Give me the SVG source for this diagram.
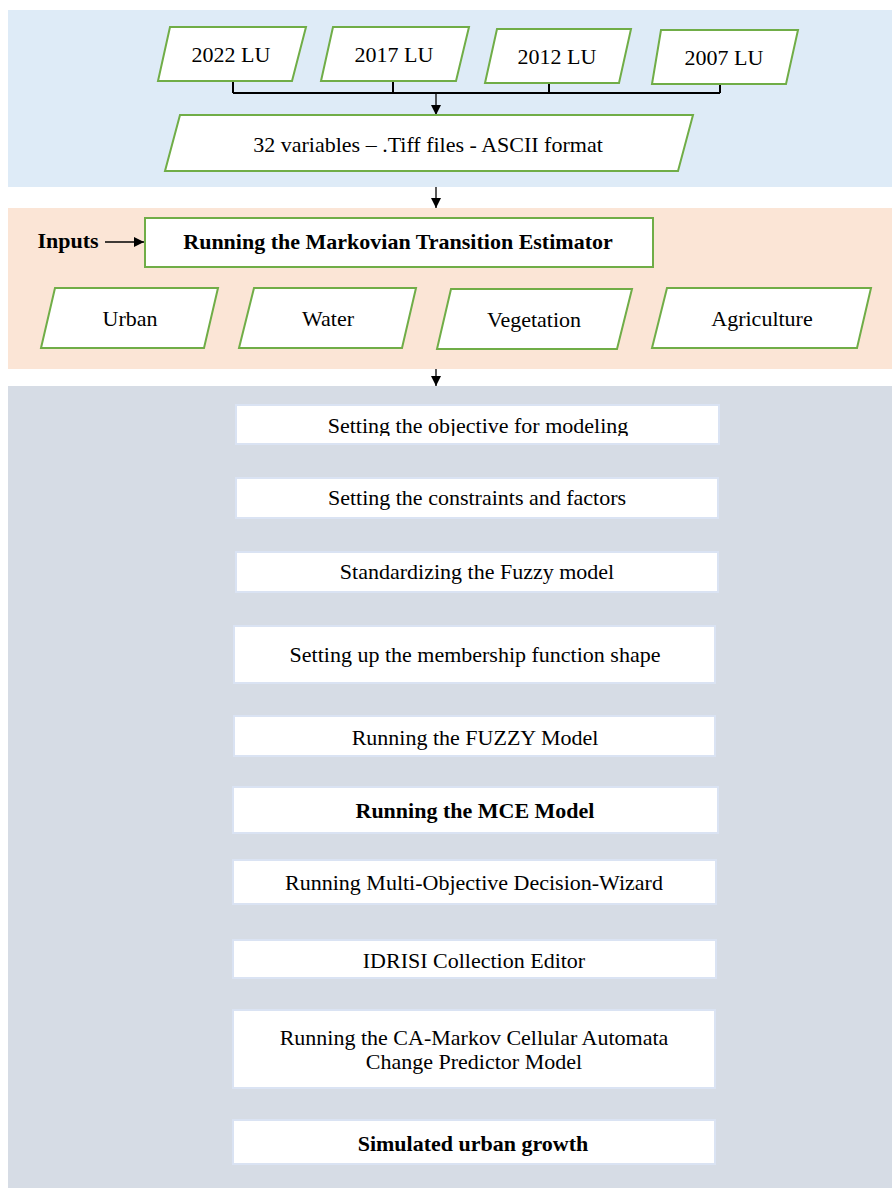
<svg xmlns="http://www.w3.org/2000/svg" width="892" height="1199" viewBox="0 0 892 1199">
<style>
text{font-family:"Liberation Serif","Times New Roman",serif;font-size:22px;fill:#000;text-anchor:middle}
.b{font-weight:bold}
.para{fill:#fff;stroke:#70ad47;stroke-width:2}
.box{fill:#fff;stroke:#dae3f3;stroke-width:2}
.ln{stroke:#000;stroke-width:2;fill:none}
.ar{stroke:#000;stroke-width:1.3;fill:none}
</style>
<defs>
<marker id="ah" viewBox="0 0 10 10" refX="10" refY="5" markerWidth="10" markerHeight="10" markerUnits="userSpaceOnUse" orient="auto">
<path d="M0,0 L10,5 L0,10 z" fill="#000"/>
</marker>
<clipPath id="c1"><rect x="236" y="405" width="483" height="31"/></clipPath>
</defs>
<rect x="8" y="10" width="884" height="177" fill="#deebf7"/>
<rect x="8" y="208" width="884" height="161" fill="#fbe5d6"/>
<rect x="8" y="386" width="884" height="802" fill="#d6dce5"/>

<g id="connectors">
<path class="ln" d="M233,81 V93 M393,81 V93 M549,83 V93 M720,84 V93 M233,93 H720"/>
<line class="ar" x1="436" y1="93" x2="436" y2="115" marker-end="url(#ah)"/>
<line class="ar" x1="436" y1="187" x2="436" y2="208" marker-end="url(#ah)"/>
<line class="ar" x1="105" y1="242" x2="144" y2="242" marker-end="url(#ah)"/>
<line class="ar" x1="436" y1="369" x2="436" y2="386" marker-end="url(#ah)"/>
</g>

<g id="lu2022"><polygon class="para" points="170,27 306,27 292,81 158,81"/><text x="231" y="62">2022 LU</text></g>
<g id="lu2017"><polygon class="para" points="333,27 469,27 456,81 321,81"/><text x="394" y="62">2017 LU</text></g>
<g id="lu2012"><polygon class="para" points="497,29 631,29 619,83 485,83"/><text x="557" y="64">2012 LU</text></g>
<g id="lu2007"><polygon class="para" points="661,30 798,30 786,84 652,84"/><text x="724" y="65">2007 LU</text></g>
<g id="variables"><polygon class="para" points="180,115 693,115 678,171 165,171"/><text x="428" y="152">32 variables – .Tiff files - ASCII format</text></g>

<g id="inputs"><text class="b" x="68" y="248">Inputs</text></g>
<g id="markov"><rect class="para" x="145" y="218" width="508" height="49"/><text class="b" x="398" y="249">Running the Markovian Transition Estimator</text></g>
<g id="urban"><polygon class="para" points="55,288 218,288 204,348 41,348"/><text x="130" y="326">Urban</text></g>
<g id="water"><polygon class="para" points="254,288 416,288 402,348 239,348"/><text x="328" y="326">Water</text></g>
<g id="vegetation"><polygon class="para" points="451,289 632,289 617,349 437,349"/><text x="534" y="327">Vegetation</text></g>
<g id="agriculture"><polygon class="para" points="667,288 871,288 857,348 652,348"/><text x="762" y="326">Agriculture</text></g>

<g id="s1"><rect class="box" x="236" y="405" width="483" height="39"/><text x="478" y="433" clip-path="url(#c1)">Setting the objective for modeling</text></g>
<g id="s2"><rect class="box" x="236" y="478" width="482" height="40"/><text x="477" y="505">Setting the constraints and factors</text></g>
<g id="s3"><rect class="box" x="236" y="552" width="482" height="40"/><text x="477" y="579">Standardizing the Fuzzy model</text></g>
<g id="s4"><rect class="box" x="234" y="626" width="481" height="57"/><text x="475" y="662">Setting up the membership function shape</text></g>
<g id="s5"><rect class="box" x="234" y="716" width="481" height="40"/><text x="475" y="745">Running the FUZZY Model</text></g>
<g id="s6"><rect class="box" x="233" y="787" width="485" height="46"/><text class="b" x="475" y="818">Running the MCE Model</text></g>
<g id="s7"><rect class="box" x="233" y="860" width="483" height="44"/><text x="474" y="890">Running Multi-Objective Decision-Wizard</text></g>
<g id="s8"><rect class="box" x="233" y="940" width="483" height="38"/><text x="474" y="968">IDRISI Collection Editor</text></g>
<g id="s9"><rect class="box" x="233" y="1010" width="482" height="78"/><text x="474" y="1045">Running the CA-Markov Cellular Automata</text><text x="474" y="1069">Change Predictor Model</text></g>
<g id="s10"><rect class="box" x="233" y="1120" width="482" height="44"/><text class="b" x="473" y="1151">Simulated urban growth</text></g>
</svg>
